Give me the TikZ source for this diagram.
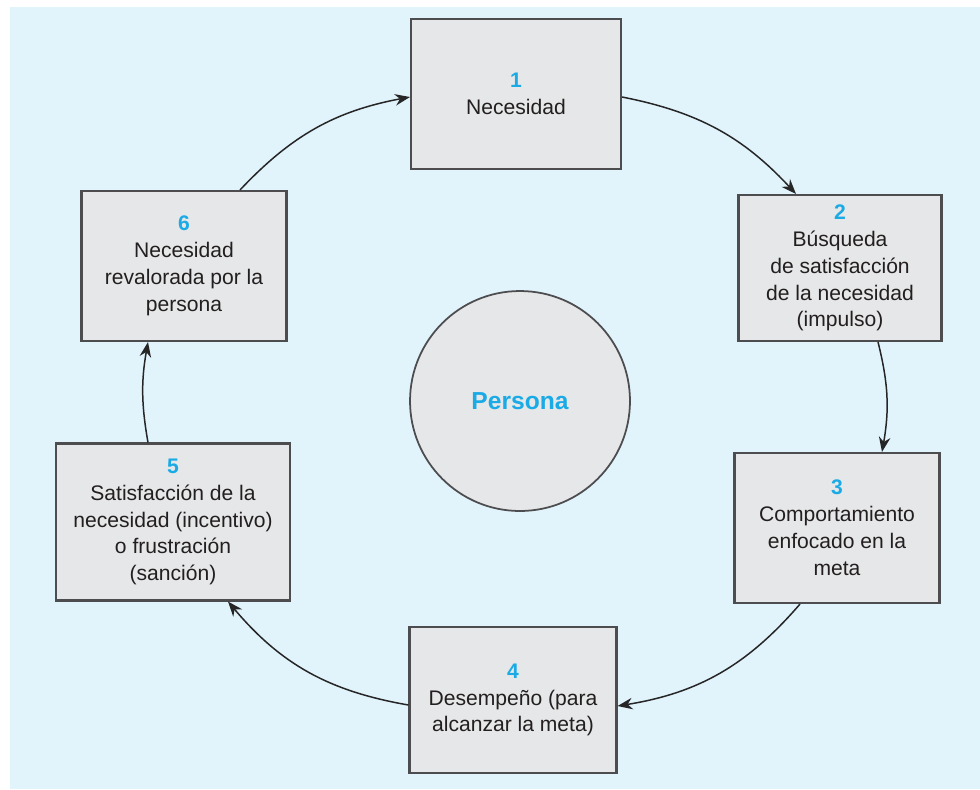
\documentclass[tikz,border=0pt]{standalone}
\usepackage{fontspec}
\setmainfont{Liberation Sans}
\usetikzlibrary{arrows.meta,calc}
\definecolor{bgblue}{HTML}{E1F3FB}
\definecolor{boxgrey}{HTML}{E6E7E8}
\definecolor{edgegrey}{HTML}{4D4D4F}
\definecolor{textgrey}{HTML}{231F20}
\definecolor{numblue}{HTML}{1AAAE6}
\begin{document}
\begin{tikzpicture}
  [x=0.02cm,y=-0.02cm,
   stage/.style={rectangle,draw=edgegrey,line width=1.2pt,fill=boxgrey,
     align=center,text=textgrey,inner sep=2pt,
     font=\fontsize{12}{15.3}\selectfont},
   hub/.style={circle,draw=edgegrey,line width=1pt,fill=boxgrey,
     minimum size=4.4cm,inner sep=0pt,text=numblue,
     font=\fontsize{14}{16}\selectfont\bfseries},
   flow/.style={-{Stealth[length=3mm,width=2.3mm]},line width=0.85pt,
     draw=black!85,bend left=#1},
   flow/.default=15]
  \useasboundingbox (0,0) rectangle (980,789);
  \fill [bgblue] (10,7) rectangle (980,789);

  \node (hub) at (520,401) [hub] {Persona};

  \node (n1) at (516,94) [stage,minimum width=4.2cm,minimum height=3.0cm]
    {\textcolor{numblue}{\bfseries 1}\\Necesidad};
  \node (n2) at (840,268) [stage,minimum width=4.06cm,minimum height=2.92cm]
    {\textcolor{numblue}{\bfseries 2}\\B\'usqueda\\de satisfacci\'on\\de la necesidad\\(impulso)};
  \node (n3) at (837,528) [stage,minimum width=4.1cm,minimum height=3.0cm]
    {\textcolor{numblue}{\bfseries 3}\\Comportamiento\\enfocado en la\\meta};
  \node (n4) at (513,700) [stage,minimum width=4.14cm,minimum height=2.92cm]
    {\textcolor{numblue}{\bfseries 4}\\Desempe\~no (para\\alcanzar la meta)};
  \node (n5) at (173,522) [stage,minimum width=4.68cm,minimum height=3.14cm]
    {\textcolor{numblue}{\bfseries 5}\\Satisfacci\'on de la\\necesidad (incentivo)\\o frustraci\'on\\(sanci\'on)};
  \node (n6) at (184,266) [stage,minimum width=4.1cm,minimum height=3.0cm]
    {\textcolor{numblue}{\bfseries 6}\\Necesidad\\revalorada por la\\persona};

  \draw [flow=18] ($(n1.east)+(0,3)$) to ($(n2.north)+(-44,0)$);
  \draw [flow=12] ($(n2.south)+(38,0)$) to ($(n3.north)+(45,0)$);
  \draw [flow=20] ($(n3.south)+(-37,0)$) to ($(n4.east)+(0,6)$);
  \draw [flow=20] ($(n4.west)+(0,5)$) to ($(n5.south)+(55,0)$);
  \draw [flow=10] ($(n5.north)+(-25,0)$) to ($(n6.south)+(-36,0)$);
  \draw [flow=18] ($(n6.north)+(56,0)$) to ($(n1.west)+(0,3)$);
\end{tikzpicture}
\end{document}
